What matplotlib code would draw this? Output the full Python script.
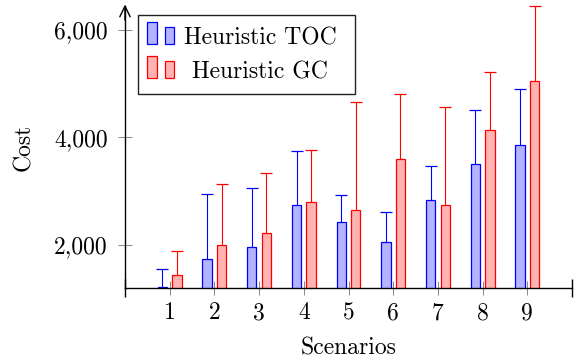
import matplotlib
matplotlib.use('Agg')
import matplotlib.pyplot as plt
from matplotlib.patches import Rectangle
from matplotlib.ticker import FuncFormatter, FixedLocator
import numpy as np

scenarios = [1, 2, 3, 4, 5, 6, 7, 8, 9]
toc_cost = [1210, 1740, 1955, 2750, 2430, 2055, 2840, 3500, 3855]
toc_upper = [1555, 2950, 3060, 3750, 2925, 2615, 3465, 4520, 4895]
gc_cost = [1440, 2005, 2225, 2795, 2640, 3595, 2735, 4135, 5055]
gc_upper = [1890, 3130, 3335, 3765, 4655, 4805, 4565, 5215, 6445]
y_ticks = [2000, 4000, 6000]
legend_labels = ['Heuristic TOC', 'Heuristic GC']

plt.rcParams['font.family'] = 'cmr10'
plt.rcParams['mathtext.fontset'] = 'cm'
plt.rcParams['axes.formatter.use_mathtext'] = True
plt.rcParams['font.size'] = 17

W, H = 576, 364
fig = plt.figure(figsize=(W / 100, H / 100), dpi=100)
ax = fig.add_axes([125 / W, 76 / H, 447 / W, 282 / H])

BLUE, BLUE_F = '#0000ff', '#b3b3ff'
RED, RED_F = '#ff0000', '#ffb3b3'
x = np.array(scenarios, dtype=float)
off, bw = 0.163, 0.208

series = [(x - off, toc_cost, toc_upper, BLUE, BLUE_F),
          (x + off, gc_cost, gc_upper, RED, RED_F)]
for xs, vals, ups, ec, fc in series:
    ax.bar(xs, vals, width=bw, color=fc, edgecolor=ec, linewidth=0.9, zorder=2)
    ax.vlines(xs, vals, ups, colors=ec, linewidth=0.8, zorder=3)
    ax.plot(xs, ups, ls='none', marker='_', ms=8.1, mew=0.9, color=ec,
            zorder=3, clip_on=False)

ax.set_xlim(0, 10)
ax.set_ylim(1195, 6450)

for s in ['top', 'right']:
    ax.spines[s].set_visible(False)
for s in ['left', 'bottom']:
    ax.spines[s].set_linewidth(1.0)
    ax.spines[s].set_zorder(4)

ax.xaxis.set_major_locator(FixedLocator(scenarios))
ax.yaxis.set_major_locator(FixedLocator(y_ticks))
ax.set_xticklabels([str(s) for s in scenarios])
ax.yaxis.set_major_formatter(FuncFormatter(lambda v, p: f'{int(v):,}'))
ax.tick_params(axis='both', direction='inout', length=9.5, width=0.7,
               color='#888888', labelsize=17)
ax.tick_params(axis='x', pad=5.5)
ax.tick_params(axis='y', pad=7.5)

ax.set_xlabel('Scenarios', fontsize=17, va='center')
ax.xaxis.set_label_coords(0.5, (H - 348 - 76) / 282)
ax.set_ylabel('Cost', fontsize=17, va='center')
ax.yaxis.set_label_coords((24.5 - 125) / 447, 0.5)

# axis-end decorations
ax.plot([0, 10], [1195, 1195], ls='none', marker='|', ms=12.5, mew=1.0,
        color='black', clip_on=False, zorder=5)
ax.annotate('', xy=(0, 1.005), xytext=(0, 0.95), xycoords='axes fraction',
            arrowprops=dict(arrowstyle='->,head_length=0.45,head_width=0.22',
                            lw=1.0, color='black', shrinkA=0, shrinkB=0))

# legend (drawn manually, pgfplots ybar style)
def fx(px):
    return px / W

def fy(py):
    return 1 - py / H

fig.add_artist(Rectangle((fx(138.3), fy(94.3)), (355 - 138.3) / W, (94.3 - 14.7) / H,
                         transform=fig.transFigure, facecolor='white',
                         edgecolor='#222222', lw=1.0, zorder=10))
legend_colors = [(BLUE, BLUE_F), (RED, RED_F)]
for i, (lab, (ec, fc)) in enumerate(zip(legend_labels, legend_colors)):
    base = 44.3 + 34 * i
    for (x0, x1, top) in [(147.3, 156.7, base - 22.6), (165.0, 174.3, base - 17.6)]:
        fig.add_artist(Rectangle((fx(x0), fy(base)), (x1 - x0) / W, (base - top) / H,
                                 transform=fig.transFigure, facecolor=fc,
                                 edgecolor=ec, lw=0.9, zorder=11))
    fig.text(fx(260), fy(base), lab, ha='center', va='baseline', fontsize=17,
             zorder=12)

fig.savefig('out.png', dpi=100)
